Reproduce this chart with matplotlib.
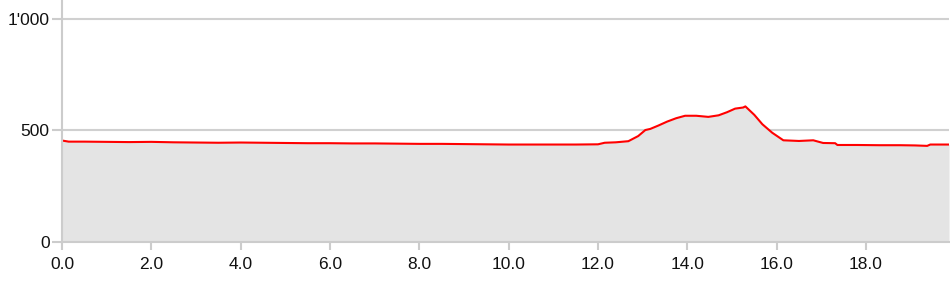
import numpy as np
import matplotlib.pyplot as plt

plt.rcParams['font.family'] = ['Liberation Sans', 'DejaVu Sans']

# distance (km) and elevation (m)
dist = [0.0, 0.15, 0.5, 1.0, 1.5, 2.0, 2.5, 3.0, 3.5, 4.0, 4.5, 5.0, 5.5, 6.0,
        6.5, 7.0, 7.5, 8.0, 8.5, 9.0, 9.5, 10.0, 10.5, 11.0, 11.5, 12.0, 12.15,
        12.4, 12.68, 12.9, 13.06, 13.17, 13.35, 13.55, 13.75, 13.95, 14.2,
        14.47, 14.7, 14.89, 15.07, 15.25, 15.3, 15.5, 15.68, 15.9, 16.15,
        16.5, 16.82, 17.04, 17.31, 17.36, 17.8, 18.3, 18.77, 19.1, 19.37,
        19.44, 19.86]
elev = [455, 450, 450, 449, 448, 449, 447, 446, 445, 446, 445, 444, 443, 443,
        442, 442, 441, 440, 440, 439, 438, 437, 437, 437, 437, 438, 445,
        447, 452, 475, 502, 507, 522, 540, 555, 566, 566,
        561, 568, 582, 598, 603, 608, 570, 528, 490, 456,
        453, 456, 444, 443, 435, 435, 434, 434, 433, 431,
        437, 437]

yticks = [0, 500, 1000]
yticklabels = ['0', '500', "1'000"]
xticks = np.arange(0, 19, 2)

fig = plt.figure(figsize=(9.5, 2.82), dpi=100)
ax = fig.add_axes([0.0653, 0.1418, 0.9337, 0.8582])

ax.fill_between(dist, elev, 0, color='#e4e4e4', lw=0, zorder=2)
ax.plot(dist, elev, color='red', lw=1.5, zorder=3)

ax.set_xlim(0, 19.86)
ax.set_ylim(0, 1085)
ax.set_yticks(yticks)
ax.set_yticklabels(yticklabels)
ax.set_xticks(xticks)
ax.set_xticklabels(['%.1f' % t for t in xticks])

ax.grid(axis='y', color='#d0d0d0', lw=1.5, zorder=1)
for s in ['top', 'right']:
    ax.spines[s].set_visible(False)
for s in ['left', 'bottom']:
    ax.spines[s].set_color('#cccccc')
    ax.spines[s].set_linewidth(1.5)
    ax.spines[s].set_zorder(4)
ax.tick_params(axis='y', length=7, width=1.5, color='#cccccc', labelsize=12.5,
               labelcolor='#111111', pad=2)
ax.tick_params(axis='x', length=6, width=1.5, color='#cccccc', labelsize=12.5,
               labelcolor='#111111', pad=5)

fig.savefig('out.png', dpi=100)
